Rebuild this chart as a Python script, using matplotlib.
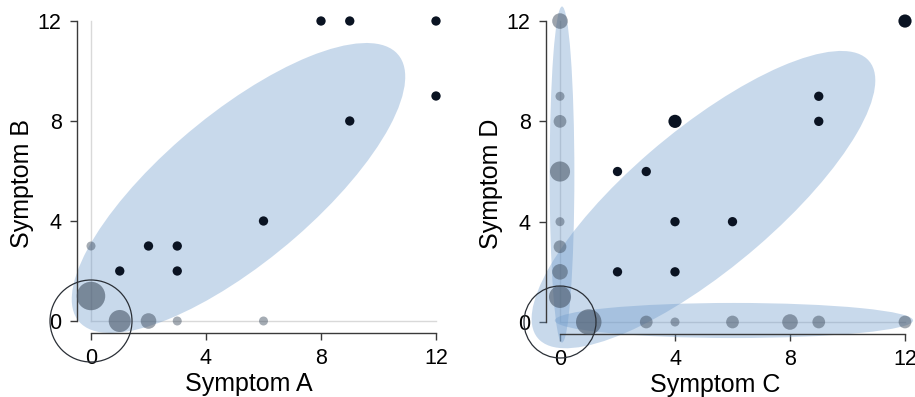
import numpy as np
import matplotlib
matplotlib.use("Agg")
import matplotlib.pyplot as plt
from matplotlib.patches import Ellipse

plt.rcParams["font.family"] = ["Liberation Sans", "DejaVu Sans"]

# panel 1: symptom A vs symptom B
ab_black_x = [8, 9, 12, 12, 9, 6, 2, 3, 1, 3]
ab_black_y = [12, 12, 12, 9, 8, 4, 3, 3, 2, 2]
ab_black_n = [1, 1, 1, 1, 1, 1, 1, 1, 1, 1]
ab_gray_x = [0, 1, 2, 0, 3, 6]
ab_gray_y = [1, 0, 0, 3, 0, 0]
ab_gray_n = [10, 6, 3, 1, 1, 1]
# ellipses: (cx, cy, width, height, angle)
ab_ellipses = [(5.13, 5.32, 15.42, 5.6, 45.0)]

# panel 2: symptom C vs symptom D
cd_black_x = [12, 4, 9, 9, 2, 3, 4, 6, 2, 4]
cd_black_y = [12, 8, 9, 8, 6, 6, 4, 4, 2, 2]
cd_black_n = [2, 2, 1, 1, 1, 1, 1, 1, 1, 1]
cd_gray_x = [0, 0, 0, 0, 0, 0, 0, 0, 1, 3, 4, 6, 8, 9, 12]
cd_gray_y = [12, 9, 8, 6, 4, 3, 2, 1, 0, 0, 0, 0, 0, 0, 0]
cd_gray_n = [3, 1, 2, 5, 1, 2, 3, 6, 8, 2, 1, 2, 3, 2, 2]
cd_ellipses = [
    (4.99, 4.88, 15.98, 5.3, 44.7),
    (0.07, 5.88, 0.86, 13.4, 0.0),
    (6.05, 0.06, 12.46, 1.40, 0.0),
]

ticks = [0, 4, 8, 12]

W, H = 915, 397
fig = plt.figure(figsize=(W / 100, H / 100), dpi=100)


def make_axes(x0px, y0px, sx, sy, xlim, ylim):
    # place axes so that data (0,0) lands on pixel (x0px, y0px from top)
    left = x0px + xlim[0] * sx
    right = x0px + xlim[1] * sx
    top = y0px - ylim[1] * sy
    bottom = y0px - ylim[0] * sy
    ax = fig.add_axes([left / W, 1 - bottom / H, (right - left) / W, (bottom - top) / H])
    ax.set_xlim(*xlim)
    ax.set_ylim(*ylim)
    return ax


def draw_panel(ax, bx, by, bn, gx, gy, gn, ellipses, xlabel, ylabel, ring_px):
    ax.patch.set_alpha(0)
    for cx, cy, w, h, ang in ellipses:
        ax.add_patch(Ellipse((cx, cy), w, h, angle=ang, facecolor="#6f9ccc",
                             alpha=0.38, edgecolor="none", zorder=2))
    ax.plot([0, 12], [0, 0], color="#d9d9d9", lw=1, zorder=1)
    ax.plot([0, 0], [0, 12], color="#d9d9d9", lw=1, zorder=1)

    gn = np.array(gn)
    alphas = np.clip(0.48 + 0.02 * (gn - 1), 0, 0.6)
    for x, y, n, a in zip(gx, gy, gn, alphas):
        ax.scatter(x, y, s=42 * n, color="#445263", alpha=a, edgecolors="none",
                   zorder=3, clip_on=False)
    ax.scatter(bx, by, s=45 * np.array(bn), color="#0a1322", edgecolors="none",
               zorder=4, clip_on=False)

    d = ring_px * 0.72
    ax.scatter([0], [0], s=d * d, facecolors="none", edgecolors="#2a2f36",
               linewidths=0.9, zorder=5, clip_on=False)

    for s in ["top", "right"]:
        ax.spines[s].set_visible(False)
    ax.spines["left"].set_position(("data", -0.49))
    ax.spines["bottom"].set_position(("data", -0.48))
    ax.spines["left"].set_bounds(0, 12)
    ax.spines["bottom"].set_bounds(0, 12)
    for s in ["left", "bottom"]:
        ax.spines[s].set_color("#3a3a3a")
        ax.spines[s].set_linewidth(1.0)
    ax.set_xticks(ticks)
    ax.set_yticks(ticks)
    ax.tick_params(direction="out", length=5, width=1.0, color="#3a3a3a",
                   labelsize=15.5, pad=6, labelcolor="black")
    ax.set_xlabel(xlabel, fontsize=18, labelpad=2)
    ax.set_ylabel(ylabel, fontsize=18, labelpad=3)


ax1 = make_axes(91, 321, 28.75, 25.0, (-1.5, 12.5), (-1.8, 12.8))
draw_panel(ax1, ab_black_x, ab_black_y, ab_black_n, ab_gray_x, ab_gray_y, ab_gray_n,
           ab_ellipses, "Symptom A", "Symptom B", 82)

ax2 = make_axes(560, 322, 28.75, 25.08, (-1.5, 12.3), (-1.8, 12.8))
draw_panel(ax2, cd_black_x, cd_black_y, cd_black_n, cd_gray_x, cd_gray_y, cd_gray_n,
           cd_ellipses, "Symptom C", "Symptom D", 72)

fig.savefig("out.png", dpi=100)
